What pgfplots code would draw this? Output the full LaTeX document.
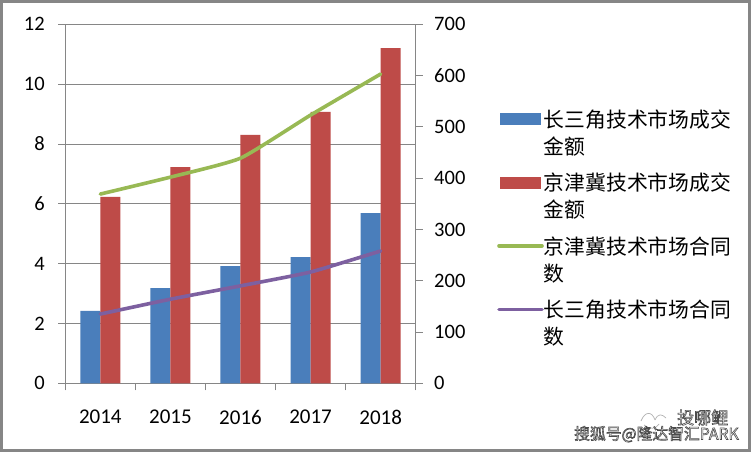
\documentclass[border=0pt]{standalone}
\usepackage{pgfplots}
\pgfplotsset{compat=1.18}
\usepackage{fontspec}
\setmainfont{Carlito}
\newfontfamily\cjk{Noto Sans CJK SC}
\definecolor{cblue}{HTML}{4A7EBB}
\definecolor{cred}{HTML}{BE4B48}
\definecolor{cgreen}{HTML}{98B954}
\definecolor{cpurple}{HTML}{7D60A0}
\definecolor{cgrid}{HTML}{868686}
\newcommand{\wm}[1]{\special{pdf: code q 2 Tr 0.6 w 0.3 0.3 0.3 RG 1 1 1 rg}#1\special{pdf: code 0 Tr Q}}
\begin{document}
\begin{tikzpicture}[x=1pt,y=1pt]
\path[use as bounding box] (0,0) rectangle (753,451);
\fill[white] (0,0) rectangle (753,451);
\begin{axis}[
  at={(65.3pt,67.7pt)}, anchor=south west,
  scale only axis, width=350.4pt, height=359pt,
  ymin=0, ymax=12, xmin=-0.5, xmax=4.5,
  ytick={0,2,...,12}, xtick={0,1,2,3,4},
  minor xtick={-0.5,0.5,1.5,2.5,3.5,4.5},
  xticklabels={2014,2015,2016,2017,2018},
  axis lines*=left, axis line style={cgrid,line width=0.9pt,-},
  ymajorgrids, grid style={cgrid,line width=0.9pt},
  tick align=outside,
  tick style={cgrid,line width=0.9pt},
  major tick length=7pt, minor tick length=7pt,
  major x tick style={draw=none},
  xtick pos=lower, ytick pos=left,
  xticklabel style={font=\fontsize{21}{24}\selectfont, yshift=-16pt},
  yticklabel style={font=\fontsize{20.5}{24}\selectfont, xshift=-10pt},
  /pgf/number format/assume math mode=true,
  ybar, bar width=20pt,
  clip=false,
]
\addplot[ybar, bar shift=-10pt, fill=cblue, draw=none, forget plot] coordinates {(0,2.42)(1,3.18)(2,3.92)(3,4.22)(4,5.69)};
\addplot[ybar, bar shift=10pt, fill=cred, draw=none, forget plot] coordinates {(0,6.23)(1,7.23)(2,8.3)(3,9.07)(4,11.2)};
\end{axis}
\begin{axis}[
  at={(65.3pt,67.7pt)}, anchor=south west,
  scale only axis, width=350.4pt, height=359pt,
  ymin=0, ymax=700, xmin=-0.5, xmax=4.5,
  ytick={0,100,...,700},
  hide x axis,
  axis y line*=right, axis line style={cgrid,line width=0.9pt,-},
  tick align=outside,
  tick style={cgrid,line width=0.9pt},
  major tick length=7pt,
  yticklabel style={font=\fontsize{20.5}{24}\selectfont, xshift=8pt},
  /pgf/number format/assume math mode=true,
  clip=false,
  legend style={at={(431.7pt,274pt)}, anchor=north west, draw=none, fill=none,
    font=\fontsize{20.8}{27}\cjk, row sep=17.2pt, inner sep=0pt,
    nodes={inner sep=0pt, text depth=},
    /tikz/column sep=0pt},
  legend cell align=left,
  legend image code/.code={\draw[#1, line cap=round] (0pt,14pt) -- (43pt,14pt);},
]
\addlegendimage{legend image code/.code={\fill[cblue] (1pt,8.5pt) rectangle (41pt,19.5pt);}}
\addlegendentry{\parbox[t]{195pt}{长三角技术市场成交\\金额}}
\addlegendimage{legend image code/.code={\fill[cred] (1pt,8.5pt) rectangle (41pt,19.5pt);}}
\addlegendentry{\parbox[t]{195pt}{京津冀技术市场成交\\金额}}
\addplot[cgreen, line width=3.6pt, line cap=round, smooth, tension=0.3] coordinates {(0,369)(1,402)(2,439)(3,523)(4,603)};
\addlegendentry{\parbox[t]{195pt}{京津冀技术市场合同\\数}}
\addplot[cpurple, line width=3.6pt, line cap=round, smooth, tension=0.3] coordinates {(0,135)(1,164)(2,190)(3,217)(4,258)};
\addlegendentry{\parbox[t]{195pt}{长三角技术市场合同\\数}}
\end{axis}
\draw[cgrid, line width=2.6pt] (1.3,449.7) -- (749.5,449.7) -- (749.5,0.7) -- (1.3,0.7) -- cycle;
\draw[gray!60, line width=0.7pt] (641,30) .. controls (645,40) and (652,40) .. (655,31) (655,31) .. controls (658,38) and (662,37) .. (666,33) (644,26) .. controls (650,21) and (656,22) .. (659,27);
\node[anchor=base west, inner sep=0pt, font=\fontsize{15.8}{18}\cjk] at (574,11.5) {\wm{搜狐号@隆达智汇PARK}};
\node[anchor=base west, inner sep=0pt, font=\fontsize{17}{18}\cjk] at (677,27) {\wm{投哪鲤}};
\end{tikzpicture}
\end{document}
